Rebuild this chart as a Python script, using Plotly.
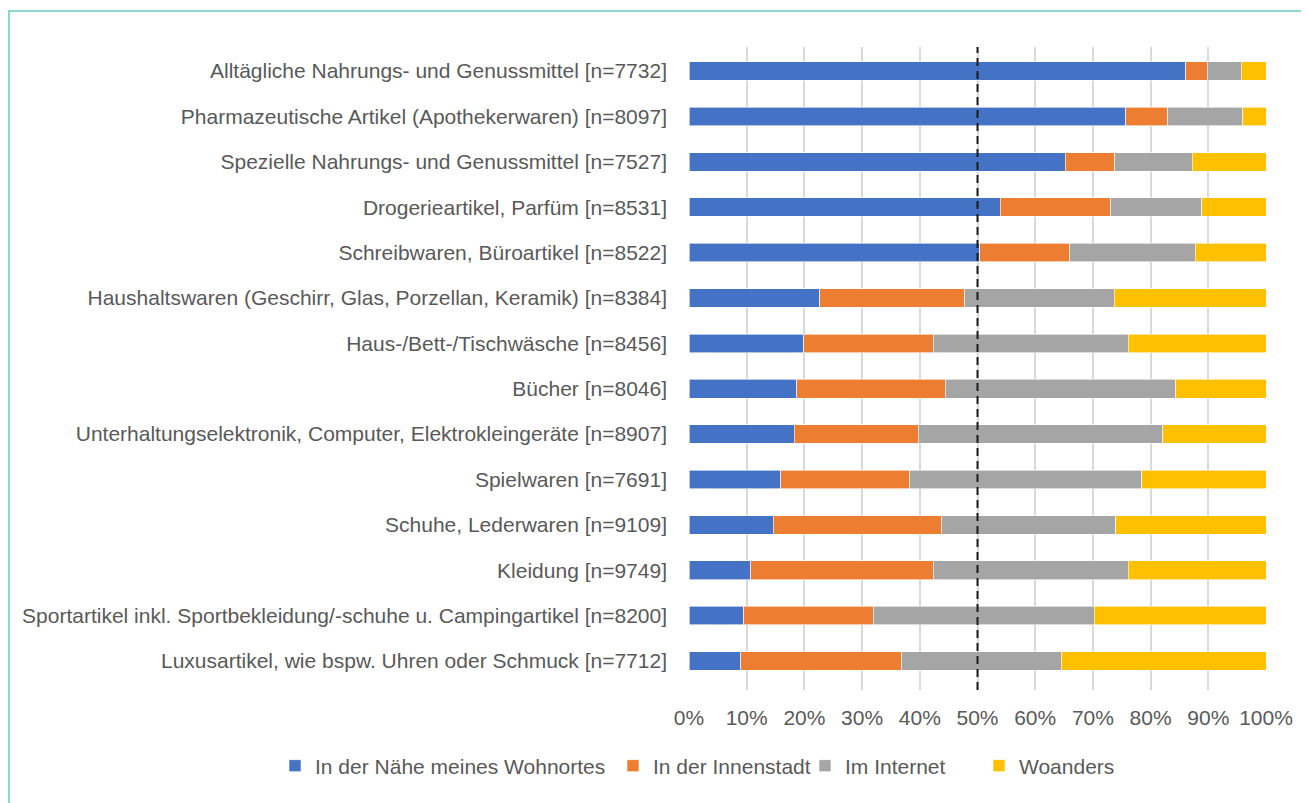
import plotly.graph_objects as go

categories = [
    "Alltägliche Nahrungs- und Genussmittel [n=7732]",
    "Pharmazeutische Artikel (Apothekerwaren) [n=8097]",
    "Spezielle Nahrungs- und Genussmittel [n=7527]",
    "Drogerieartikel, Parfüm [n=8531]",
    "Schreibwaren, Büroartikel [n=8522]",
    "Haushaltswaren (Geschirr, Glas, Porzellan, Keramik) [n=8384]",
    "Haus-/Bett-/Tischwäsche [n=8456]",
    "Bücher [n=8046]",
    "Unterhaltungselektronik, Computer, Elektrokleingeräte [n=8907]",
    "Spielwaren [n=7691]",
    "Schuhe, Lederwaren [n=9109]",
    "Kleidung [n=9749]",
    "Sportartikel inkl. Sportbekleidung/-schuhe u. Campingartikel [n=8200]",
    "Luxusartikel, wie bspw. Uhren oder Schmuck [n=7712]",
]

naehe = [86.1, 75.7, 65.2, 53.9, 50.4, 22.7, 19.9, 18.7, 18.2, 15.9, 14.6, 10.7, 9.5, 9.0]
innenstadt = [3.7, 7.3, 8.6, 19.2, 15.6, 25.1, 22.4, 25.7, 21.5, 22.4, 29.1, 31.6, 22.4, 27.9]
internet = [5.9, 13.0, 13.4, 15.8, 21.7, 25.9, 33.8, 40.0, 42.4, 40.2, 30.3, 33.8, 38.3, 27.6]
woanders = [4.3, 4.0, 12.8, 11.1, 12.3, 26.3, 23.9, 15.6, 17.9, 21.5, 26.0, 23.9, 29.8, 35.5]

series_names = ["In der Nähe meines Wohnortes", "In der Innenstadt", "Im Internet", "Woanders"]
series_values = [naehe, innenstadt, internet, woanders]
colors = ["#4472C4", "#ED7D31", "#A5A5A5", "#FFC000"]

tick_vals = [0, 10, 20, 30, 40, 50, 60, 70, 80, 90, 100]
tick_text = [f"{v}%" for v in tick_vals]

FONT = "Liberation Sans, Arial, sans-serif"
TXT = "#595959"
FS = 21

# Layout geometry (figure pixels)
W, H = 1309, 803
L, R, T, B = 681, 51, 39, 121
pw, ph = W - L - R, H - T - B

legend_names = ["legend", "legend2", "legend3", "legend4"]
legend_x_px = [267, 605, 797, 971]
legend_y = (ph - (758 - T)) / ph

fig = go.Figure()
for name, vals, col, lg in zip(series_names, series_values, colors, legend_names):
    fig.add_trace(go.Bar(
        y=categories, x=vals, name=name, orientation="h",
        marker=dict(color=col, line=dict(color="white", width=0.6)),
        legend=lg,
        hovertemplate="%{y}<br>" + name + ": %{x:.1f}%<extra></extra>",
    ))

legend_common = dict(orientation="h", xanchor="left", yanchor="middle",
                     font=dict(size=FS, color=TXT), itemwidth=30,
                     bgcolor="rgba(0,0,0,0)")
legend_layout = {}
for lg, px in zip(legend_names, legend_x_px):
    legend_layout[lg] = dict(x=(px - L) / pw, y=legend_y, **legend_common)

fig.update_layout(
    width=W, height=H,
    barmode="stack", bargap=0.59,
    margin=dict(l=L, r=R, t=T, b=B, autoexpand=False),
    paper_bgcolor="white", plot_bgcolor="white",
    font=dict(family=FONT, size=FS, color=TXT),
    showlegend=True,
    xaxis=dict(range=[0, 100], tickvals=tick_vals, ticktext=tick_text,
               showgrid=True, gridcolor="#D9D9D9", gridwidth=1.5,
               zeroline=False, showline=False, ticks="", automargin=False,
               ticklabelstandoff=13, fixedrange=True),
    yaxis=dict(range=[13.64, -0.53], showgrid=False, zeroline=False,
               showline=False, ticks="", ticklabelstandoff=21, automargin=False,
               fixedrange=True),
    shapes=[
        dict(type="line", xref="x", yref="paper", x0=50, x1=50, y0=0, y1=1,
             line=dict(color="#1a1a1a", width=2, dash="8px,5px"), layer="above"),
        dict(type="line", xref="paper", yref="paper",
             x0=(0 - L) / pw, x1=(W + 10 - L) / pw,
             y0=1 + (T - 3) / ph, y1=1 + (T - 3) / ph,
             line=dict(color="#8ED8CB", width=2)),
        dict(type="line", xref="paper", yref="paper",
             x0=(1 - L) / pw, x1=(1 - L) / pw,
             y0=1 + (T - 3) / ph, y1=-(B + 10) / ph,
             line=dict(color="#8ED8CB", width=2)),
    ],
    **legend_layout,
)

fig.write_html("out.html")
